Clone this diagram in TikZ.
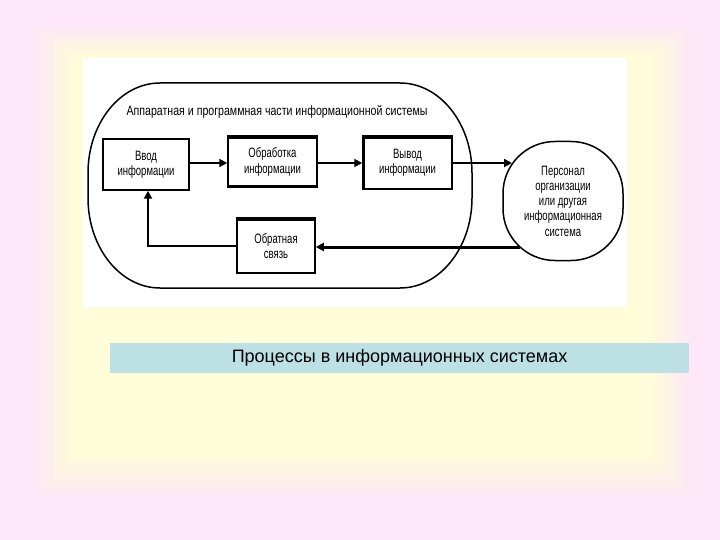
\documentclass[tikz,border=0pt]{standalone}
\usepackage{fontspec}
\setmainfont{Liberation Sans}
\newfontfamily\boxfont[FakeStretch=0.7]{Liberation Sans}
\newfontfamily\titlefont[FakeStretch=0.78]{Liberation Sans}
\usetikzlibrary{arrows.meta}
\definecolor{bgpink}{HTML}{FCE6F7}
\definecolor{bgyellow}{HTML}{FFFCDA}
\definecolor{capblue}{HTML}{BCE0E4}
\begin{document}
\begin{tikzpicture}[x=1pt,y=-1pt,
  blk/.style={draw=black, line width=1.5pt, fill=white, inner sep=0pt,
    font=\boxfont\fontsize{13.6}{15.3}\selectfont, align=center},
  thickside/.style={line width=3.5pt},
  arr/.style={line width=2.6pt, -{Triangle[length=8pt,width=8pt]}},
  thinarr/.style={line width=1.8pt, -{Triangle[length=8pt,width=8pt]}},
]
\useasboundingbox (0,0) rectangle (720,540);
% background gradient
\fill[bgpink] (0,0) rectangle (720,540);
\foreach \i in {0,...,14}{
  \pgfmathsetmacro\xa{32+40*\i/14}
  \pgfmathsetmacro\ya{25+30*\i/14}
  \pgfmathsetmacro\xb{695-43*\i/14}
  \pgfmathsetmacro\yb{500-42*\i/14}
  \pgfmathtruncatemacro\p{100*\i/14}
  \fill[bgyellow!\p!bgpink] (\xa,\ya) rectangle (\xb,\yb);
}
% white picture area
\fill[white] (83,58) rectangle (627,307);

% hardware/software frame (stadium with elliptical ends)
\node[inner sep=0pt, minimum width=384pt, minimum height=205pt] (hw) at (280,185.5) {};
\draw[line width=1.5pt] (160,83) -- (400,83)
  arc[start angle=270, end angle=360, x radius=72, y radius=90] -- (472,198)
  arc[start angle=0, end angle=90, x radius=72, y radius=90] -- (160,288)
  arc[start angle=90, end angle=180, x radius=72, y radius=90] -- (88,173)
  arc[start angle=180, end angle=270, x radius=72, y radius=90] -- cycle;
\node[font=\titlefont\fontsize{13.6}{15}\selectfont, inner sep=0pt] (title) at (277,112)
  {Аппаратная и программная части информационной системы};

% blocks
\node[blk, minimum width=86pt, minimum height=51pt] (b1) at (146,164.5) {Ввод\\информации};
\node[blk, minimum width=89pt, minimum height=50pt] (b2) at (272.5,162) {Обработка\\информации};
\node[blk, minimum width=89pt, minimum height=52pt] (b3) at (407.5,163) {Вывод\\информации};
\node[blk, minimum width=78pt, minimum height=54pt] (b4) at (276,246) {Обратная\\связь};
\node[blk, rounded corners=52pt, minimum width=120pt, minimum height=119pt] (pers) at (563,201)
  {Персонал\\организации\\или другая\\информационная\\система};

% thick sides
\draw[thickside] ([yshift=-1pt]b2.north west) -- ([yshift=-1pt]b2.north east);
\draw[thickside] ([yshift=1pt]b2.south west) -- ([yshift=1pt]b2.south east);
\draw[thickside] ([yshift=-1pt]b3.north west) -- ([yshift=-1pt]b3.north east);
\draw[thickside] ([xshift=1pt]b3.north west) -- ([xshift=1pt]b3.south west);
\draw[thickside] ([yshift=-1pt]b4.north west) -- ([yshift=-1pt]b4.north east);

% connector end points on the rounded outer block
\coordinate (pin) at (512,163);
\coordinate (pout) at (520,247);

% connectors
\draw[arr] (b1.east |- 0,163) -- (b2.west |- 0,163);
\draw[thinarr] (b2.east |- 0,163) -- (b3.west |- 0,163);
\draw[arr] (b3.east |- pin) -- (pin);
\draw[arr, line width=3pt] (pout) -- (b4.east |- pout);
\draw[arr] (b4.west) -| ([xshift=2pt]b1.south);

% caption
\node[fill=capblue, minimum width=579pt, minimum height=30pt, inner sep=0pt,
  font=\fontsize{18}{20}\selectfont] (cap) at (399.5,358)
  {Процессы в информационных системах};
\end{tikzpicture}
\end{document}
